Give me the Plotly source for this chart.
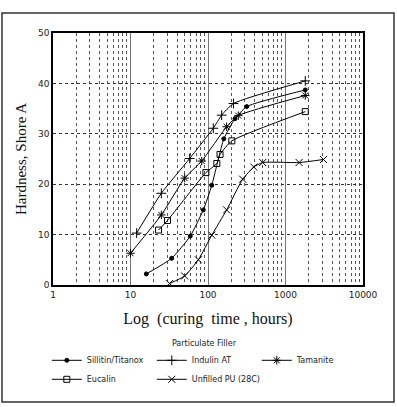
import plotly.graph_objects as go

# Data (curing time in hours, hardness Shore A)
sillitin_x = [16, 34, 59, 87, 112, 160, 223, 316, 1800]
sillitin_y = [2.2, 5.3, 9.7, 14.9, 19.8, 29.0, 33.0, 35.4, 38.7]

indulin_x = [12, 25, 58, 117, 150, 213, 1800]
indulin_y = [10.3, 18.2, 25.1, 31.1, 33.7, 36.0, 40.5]

tamanite_x = [10, 25, 50, 83, 174, 246, 1800]
tamanite_y = [6.3, 13.9, 21.2, 24.6, 31.4, 33.6, 37.6]

eucalin_x = [23, 30, 94, 130, 143, 203, 1800]
eucalin_y = [10.9, 12.8, 22.3, 24.1, 25.9, 28.6, 34.4]

unfilled_x = [32, 50, 75, 112, 174, 280, 390, 508, 1500, 3090]
unfilled_y = [0.3, 1.8, 5.0, 9.9, 14.9, 21.0, 23.4, 24.3, 24.3, 24.9]

x_ticks = [1, 10, 100, 1000, 10000]
x_tick_labels = ["1", "10", "100", "1000", "10000"]
y_ticks = [0, 10, 20, 30, 40, 50]

series = [
    ("Sillitin/Titanox", sillitin_x, sillitin_y, dict(symbol="circle", size=4)),
    ("Indulin AT", indulin_x, indulin_y, dict(symbol="cross-thin", size=7)),
    ("Tamanite", tamanite_x, tamanite_y, dict(symbol="asterisk", size=7)),
    ("Eucalin", eucalin_x, eucalin_y, dict(symbol="square-open", size=6)),
    ("Unfilled PU (28C)", unfilled_x, unfilled_y, dict(symbol="x-thin", size=7)),
]

fig = go.Figure()
for name, xs, ys, mk in series:
    fig.add_trace(go.Scatter(
        x=xs, y=ys, name=name, mode="lines+markers",
        line=dict(color="black", width=1, shape="spline", smoothing=0.5),
        marker=dict(color="black", line=dict(color="black", width=1), **mk),
    ))

tick_font = dict(family="DejaVu Sans", size=9, color="#222")

fig.update_layout(
    width=397, height=407,
    margin=dict(l=53, r=34, t=33, b=122),
    paper_bgcolor="white", plot_bgcolor="white",
    showlegend=True,
    legend=dict(
        orientation="h", x=-0.02, y=-0.2, xanchor="left", yanchor="top",
        entrywidth=60, entrywidthmode="pixels", itemwidth=30,
        font=dict(family="DejaVu Sans", size=8, color="#222"),
        title=dict(text="Particulate Filler", side="top center",
                   font=dict(family="DejaVu Sans", size=8, color="#222")),
        tracegroupgap=0, bgcolor="rgba(0,0,0,0)",
    ),
    xaxis=dict(
        type="log", range=[0, 4],
        tickvals=x_ticks, ticktext=x_tick_labels,
        showgrid=True, gridcolor="#777", gridwidth=1,
        minor=dict(dtick="D1", showgrid=True, gridcolor="#555", griddash="dot", gridwidth=1, ticks=""),
        showline=True, linecolor="black", linewidth=1.5, mirror=True,
        ticks="", tickfont=tick_font,
        title=dict(text="Log  (curing  time , hours)",
                   font=dict(family="Liberation Serif", size=16, color="#111"), standoff=14),
        zeroline=False,
    ),
    yaxis=dict(
        range=[0, 50], tickvals=y_ticks,
        showgrid=True, gridcolor="#333", gridwidth=1.2, griddash="dot",
        showline=True, linecolor="black", linewidth=1.5, mirror=True,
        ticks="", tickfont=tick_font,
        title=dict(text="Hardness, Shore A",
                   font=dict(family="Liberation Serif", size=15, color="#111"), standoff=8),
        zeroline=False,
    ),
    shapes=[dict(type="rect", xref="paper", yref="paper",
                 x0=(2 - 53) / 310, x1=(394 - 53) / 310,
                 y0=(285 - 402) / 252, y1=(285 - 13) / 252,
                 line=dict(color="#333", width=1.5), layer="below")],
)

fig.write_html("out.html")
